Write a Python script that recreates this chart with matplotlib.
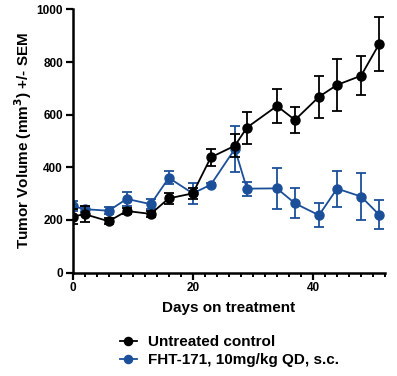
import matplotlib
matplotlib.use("Agg")
from matplotlib import pyplot as plt
from matplotlib.ticker import MultipleLocator

plt.rcParams['font.family'] = ['Liberation Sans', 'DejaVu Sans']
plt.rcParams['font.weight'] = 'bold'

# measurement days
days = [0, 2, 6, 9, 13, 16, 20, 23, 27, 29, 34, 37, 41, 44, 48, 51]

# untreated control group, mean and SEM
control_mean = [213, 222, 195, 234, 223, 282, 301, 438, 482, 551, 633, 580, 668, 713, 748, 868]
control_sem = [28, 30, 12, 12, 12, 20, 22, 32, 44, 61, 65, 50, 79, 99, 75, 103]

# FHT-171 treated group, mean and SEM
treated_mean = [253, 241, 235, 280, 260, 360, 301, 334, 470, 319, 320, 263, 218, 319, 289, 220]
treated_sem = [18, 10, 14, 28, 20, 25, 39, 8, 88, 27, 78, 57, 45, 68, 90, 54]

labels = ["Untreated control", "FHT-171, 10mg/kg QD, s.c."]
blue = "#1b4f9a"

fig = plt.figure(figsize=(3.97, 3.76), dpi=100)
ax = fig.add_axes([0.183, 0.275, 0.787, 0.700])

ax.errorbar(days, treated_mean, yerr=treated_sem, color=blue, marker="o",
            markersize=6.5, linewidth=1.3, elinewidth=1.3, capsize=3.5,
            capthick=1.3, label=labels[1], zorder=2)
ax.errorbar(days, control_mean, yerr=control_sem, color="black", marker="o",
            markersize=6.5, linewidth=1.3, elinewidth=1.3, capsize=3.5,
            capthick=1.3, label=labels[0], zorder=3)

ax.set_xlim(0, 52)
ax.set_ylim(0, 1000)
ax.xaxis.set_major_locator(MultipleLocator(20))
ax.xaxis.set_minor_locator(MultipleLocator(2))
ax.yaxis.set_major_locator(MultipleLocator(200))

for side in ["top", "right"]:
    ax.spines[side].set_visible(False)
for side in ["left", "bottom"]:
    ax.spines[side].set_linewidth(1.8)

ax.tick_params(which="major", length=5, width=1.6, labelsize=8.5, pad=2)
ax.tick_params(which="minor", length=3, width=1.4)
for lbl in ax.get_xticklabels() + ax.get_yticklabels():
    lbl.set_fontweight("bold")

ax.set_xlabel("Days on treatment", fontsize=11, fontweight="bold", labelpad=5)
ax.set_ylabel("Tumor Volume (mm$^\\mathbf{3}$) +/- SEM", fontsize=11,
              fontweight="bold", labelpad=2)

# legend below the axes, control first
handles, lbls = ax.get_legend_handles_labels()
handles = [h[0] for h in handles[::-1]]
leg = fig.legend(handles, lbls[::-1], loc="upper left", bbox_to_anchor=(0.302, 0.108),
                 frameon=False, fontsize=11, handlelength=1.1, handletextpad=0.75,
                 labelspacing=0.25, borderpad=0, borderaxespad=0, markerscale=0.9)
for t in leg.get_texts():
    t.set_fontweight("bold")

fig.savefig("out.png", dpi=100)
